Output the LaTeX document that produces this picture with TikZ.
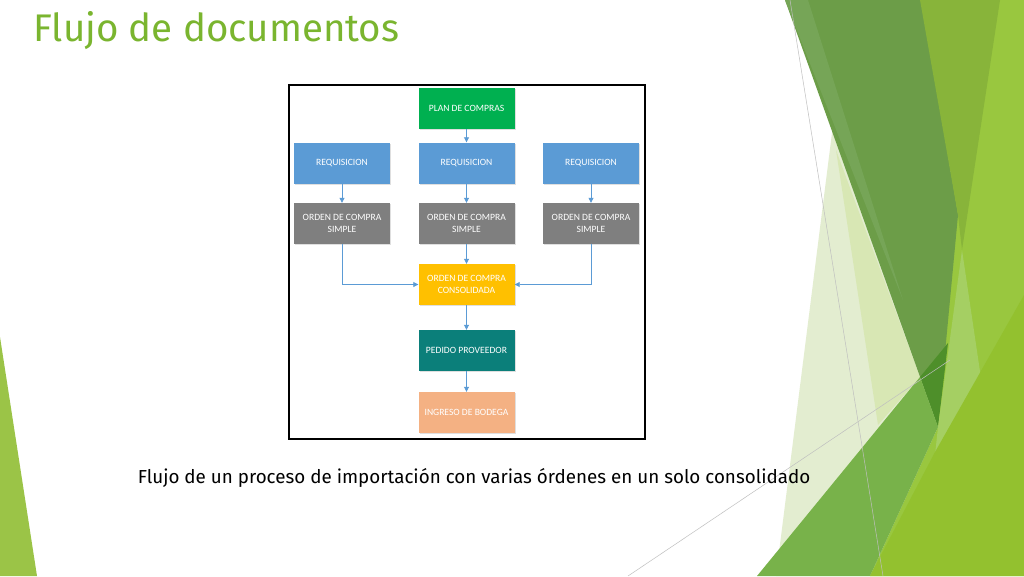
\documentclass[tikz,border=0pt]{standalone}
\usepackage{fontspec}
\setmainfont{Fira Sans}
\newfontfamily\boxfont{Carlito}
\usetikzlibrary{arrows.meta,shadows}
\definecolor{titlegreen}{HTML}{7AB52F}
\definecolor{planG}{HTML}{00B050}
\definecolor{reqB}{HTML}{5B9BD5}
\definecolor{ocG}{HTML}{7F7F7F}
\definecolor{consY}{HTML}{FFC000}
\definecolor{pedT}{HTML}{0B7F7A}
\definecolor{ingP}{HTML}{F4B183}
\definecolor{arrB}{HTML}{5B9BD5}
\definecolor{bgPale}{HTML}{E3EDD0}
\definecolor{bgPale2}{HTML}{D8E7B4}
\definecolor{bgDark}{HTML}{6C9D48}
\definecolor{bgDarkL}{HTML}{76A557}
\definecolor{bgDarker}{HTML}{4E8F2A}
\definecolor{bgMed}{HTML}{88B43A}
\definecolor{bgLight}{HTML}{99C73F}
\definecolor{bgBand}{HTML}{A5CF63}
\definecolor{bgGreen}{HTML}{78B24A}
\definecolor{bgBright}{HTML}{93C12F}
\definecolor{bgLeft}{HTML}{9BC447}
\tikzset{
  box/.style={minimum width=96pt, minimum height=41pt, inner sep=0pt, align=center,
    text=white, font=\boxfont\fontsize{9.6}{11.5}\selectfont,
    drop shadow={opacity=0.25, shadow xshift=1pt, shadow yshift=-1pt}},
  flow/.style={draw=arrB, line width=0.8pt, -{Triangle[length=5pt,width=5pt]}},
  thinline/.style={draw=black!25, line width=0.5pt}
}
\begin{document}
\begin{tikzpicture}[x=1pt,y=-1pt]
\useasboundingbox (0,0) rectangle (1024,576);
\fill[white] (0,0) rectangle (1024,576);
% background decoration
\fill[bgPale] (833,125) -- (1000,576) -- (776,576) -- cycle;
\fill[bgPale2] (836,150) -- (920,377) -- (878,425) -- cycle;
\fill[bgLight] (960,0) -- (1024,0) -- (1024,576) -- (870,576) -- (938,427) -- (950,200) -- cycle;
\fill[bgDark] (785,0) -- (922,0) -- (958,215) -- (938,427) -- cycle;
\fill[bgDarkL] (785,0) -- (808,0) -- (903,300) -- cycle;
\fill[bgMed] (920,0) -- (1000,0) -- (962,250) -- (958,215) -- cycle;
\fill[bgDarker] (920,377) -- (948,343) -- (938,427) -- cycle;
\fill[bgBand] (962,250) -- (982,385) -- (935,455) -- (938,427) -- cycle;
\fill[bgGreen] (757,576) -- (920,377) -- (938,427) -- (870,576) -- cycle;
\fill[bgBright] (870,576) -- (935,452) -- (1024,295) -- (1024,576) -- cycle;
\fill[bgLeft] (0,337) -- (37,576) -- (0,576) -- cycle;
\coordinate (g1a) at (790,0);
\coordinate (g1b) at (883,576);
\coordinate (g2a) at (628,576);
\coordinate (g2b) at (950,360);
\draw[thinline] (g1a) -- (g1b);
\draw[thinline] (g2a) -- (g2b);
% title
\node[anchor=base west, text=titlegreen, font=\fontsize{38.5}{42}\selectfont, inner sep=0pt] (title) at (33,41) {Flujo de documentos};
% frame
\draw[black, line width=1.6pt] (289,85) rectangle (645,439);
% boxes
\node[box, fill=planG] (plan) at (466.5,108.5) {PLAN DE COMPRAS};
\node[box, fill=reqB] (req1) at (342,163) {REQUISICION};
\node[box, fill=reqB] (req2) at (466.5,163) {REQUISICION};
\node[box, fill=reqB] (req3) at (591,163) {REQUISICION};
\node[box, fill=ocG] (oc1) at (342,223.5) {ORDEN DE COMPRA\\SIMPLE};
\node[box, fill=ocG] (oc2) at (466.5,223.5) {ORDEN DE COMPRA\\SIMPLE};
\node[box, fill=ocG] (oc3) at (591,223.5) {ORDEN DE COMPRA\\SIMPLE};
\node[box, fill=consY] (cons) at (466.5,284.5) {ORDEN DE COMPRA\\CONSOLIDADA};
\node[box, fill=pedT] (ped) at (466.5,350.5) {PEDIDO PROVEEDOR};
\node[box, fill=ingP] (ing) at (466.5,412.5) {INGRESO DE BODEGA};
% connectors
\draw[flow] (plan) -- (req2);
\draw[flow] (req1) -- (oc1);
\draw[flow] (req2) -- (oc2);
\draw[flow] (req3) -- (oc3);
\draw[flow] (oc2) -- (cons);
\draw[flow] (oc1.south) |- (cons.west);
\draw[flow] (oc3.south) |- (cons.east);
\draw[flow] (cons) -- (ped);
\draw[flow] (ped) -- (ing);
% caption
\node[anchor=base, font=\fontsize{18.8}{22}\selectfont, inner sep=0pt] (caption) at (474,483) {Flujo de un proceso de importación con varias órdenes en un solo consolidado};
\end{tikzpicture}
\end{document}
